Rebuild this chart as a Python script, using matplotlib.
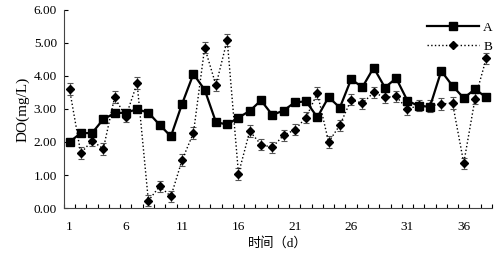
import matplotlib.pyplot as plt
import numpy as np

days = list(range(1, 39))
do_a = [2.00, 2.27, 2.27, 2.69, 2.87, 2.89, 2.99, 2.89, 2.52, 2.17,
        3.16, 4.06, 3.58, 2.60, 2.53, 2.74, 2.94, 3.26, 2.82, 2.95,
        3.20, 3.23, 2.75, 3.36, 3.04, 3.90, 3.66, 4.25, 3.65, 3.93,
        3.25, 3.09, 3.07, 4.15, 3.70, 3.33, 3.60, 3.35]
do_b = [3.60, 1.66, 2.04, 1.79, 3.35, 2.77, 3.78, 0.22, 0.66, 0.35,
        1.46, 2.27, 4.86, 3.72, 5.09, 1.04, 2.33, 1.92, 1.84, 2.20,
        2.37, 2.74, 3.48, 2.00, 2.51, 3.28, 3.17, 3.50, 3.35, 3.38,
        2.99, 3.11, 3.09, 3.15, 3.18, 1.36, 3.31, 4.54]
err_b = [0.19, 0.18, 0.16, 0.17, 0.18, 0.17, 0.19, 0.17, 0.17, 0.18,
         0.18, 0.18, 0.18, 0.18, 0.18, 0.18, 0.18, 0.17, 0.16, 0.17,
         0.17, 0.17, 0.18, 0.17, 0.17, 0.17, 0.17, 0.17, 0.16, 0.17,
         0.17, 0.17, 0.17, 0.17, 0.17, 0.17, 0.17, 0.17]
xtick_days = [1, 6, 11, 16, 21, 26, 31, 36]

plt.rcParams['font.family'] = ['Liberation Serif', 'Noto Sans CJK SC']
plt.rcParams['font.size'] = 9.5

fig = plt.figure(figsize=(5.03, 2.54), dpi=100)
ax = fig.add_axes([0.127, 0.181, 0.851, 0.780])

line_b = ax.errorbar(days, do_b, yerr=err_b, color='black', ls=':', lw=1.0,
                     marker='D', markersize=4.5, ecolor='#555555',
                     elinewidth=0.8, capsize=2.5, capthick=0.8, label='B',
                     zorder=2)
line_a, = ax.plot(days, do_a, color='black', lw=1.6, marker='s',
                  markersize=5.5, label='A', zorder=3)

ax.set_xlim(0.5, 38.5)
ax.set_ylim(0, 6)
ax.set_yticks(np.arange(0, 6.01, 1))
ax.set_yticklabels(['%.2f' % v for v in np.arange(0, 6.01, 1)])
ax.set_xticks(xtick_days)
ax.set_xticks(np.arange(0.5, 39, 1), minor=True)
ax.tick_params(axis='x', which='major', length=0, pad=9)
ax.tick_params(axis='x', which='minor', direction='in', length=3, width=0.8)
ax.tick_params(axis='y', direction='in', length=3, width=0.8, pad=5)
for s in ['top', 'right']:
    ax.spines[s].set_visible(False)
for s in ['left', 'bottom']:
    ax.spines[s].set_linewidth(0.8)
    ax.spines[s].set_color('#444444')

ax.set_ylabel('DO(mg/L)', fontsize=11, labelpad=3)
ax.set_xlabel('时间（d）', fontsize=9.5, labelpad=3)

ax.legend([line_a, line_b.lines[0]], ['A', 'B'], loc='upper right',
          bbox_to_anchor=(1.03, 1.0), frameon=False, handlelength=4,
          fontsize=9.5, labelspacing=0.5, handletextpad=0.3)

fig.savefig('out.png', dpi=100)
